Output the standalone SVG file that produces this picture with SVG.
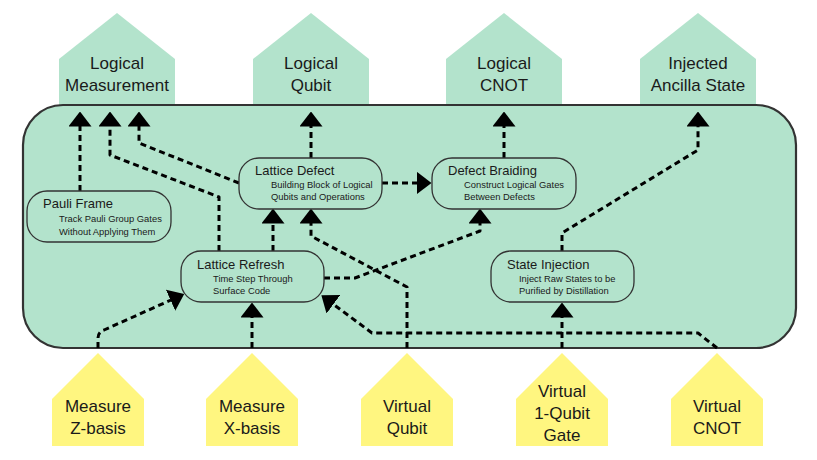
<svg xmlns="http://www.w3.org/2000/svg" width="817" height="460" viewBox="0 0 817 460">
<defs>
<style>
.out{fill:#b3e3cc}
.in{fill:#fff680}
.lbl{font-family:"Liberation Sans",Arial,sans-serif;font-size:17px;fill:#1a1a1a;text-anchor:middle}
.node{fill:#b3e3cc;stroke:#333;stroke-width:1.3}
.t{font-family:"Liberation Sans",Arial,sans-serif;font-size:13px;fill:#1a1a1a}
.s{font-family:"Liberation Sans",Arial,sans-serif;font-size:9.4px;fill:#1a1a1a}
.e{fill:none;stroke:#000;stroke-width:3;stroke-dasharray:6 4;stroke-linejoin:round;marker-end:url(#ah)}
.e2{fill:none;stroke:#000;stroke-width:3;stroke-dasharray:6 4;stroke-linejoin:round}
</style>
<marker id="ah" viewBox="0 0 15 23" markerWidth="15" markerHeight="23" refX="0.5" refY="11.5" orient="auto" markerUnits="userSpaceOnUse">
<path d="M0,0 L15,11.5 L0,23 Z" fill="#000"/>
</marker>
</defs>

<g id="out-logical-measurement"><polygon class="out" points="59,106 59,59 117,13 175,59 175,106"/><text class="lbl" x="117" y="69">Logical</text><text class="lbl" x="117" y="91">Measurement</text></g>
<g id="out-logical-qubit"><polygon class="out" points="253,106 253,59 311,13 369,59 369,106"/><text class="lbl" x="311" y="69">Logical</text><text class="lbl" x="311" y="91">Qubit</text></g>
<g id="out-logical-cnot"><polygon class="out" points="446,106 446,59 504,13 562,59 562,106"/><text class="lbl" x="504" y="69">Logical</text><text class="lbl" x="504" y="91">CNOT</text></g>
<g id="out-injected-ancilla"><polygon class="out" points="640,106 640,59 698,13 756,59 756,106"/><text class="lbl" x="698" y="69">Injected</text><text class="lbl" x="698" y="91">Ancilla State</text></g>

<g id="container"><rect x="23" y="105" width="773" height="243" rx="40" ry="40" fill="#b3e3cc" stroke="#333" stroke-width="2.2"/></g>

<g id="in-measure-z"><polygon class="in" points="52,446 52,399 98,353 144,399 144,446"/><text class="lbl" x="98" y="412">Measure</text><text class="lbl" x="98" y="434">Z-basis</text></g>
<g id="in-measure-x"><polygon class="in" points="206,446 206,399 252,353 298,399 298,446"/><text class="lbl" x="252" y="412">Measure</text><text class="lbl" x="252" y="434">X-basis</text></g>
<g id="in-virtual-qubit"><polygon class="in" points="361,446 361,399 407,353 453,399 453,446"/><text class="lbl" x="407" y="412">Virtual</text><text class="lbl" x="407" y="434">Qubit</text></g>
<g id="in-virtual-1qubit"><polygon class="in" points="516,446 516,399 562,353 608,399 608,446"/><text class="lbl" x="562" y="397">Virtual</text><text class="lbl" x="562" y="419">1-Qubit</text><text class="lbl" x="562" y="441">Gate</text></g>
<g id="in-virtual-cnot"><polygon class="in" points="671,446 671,399 717,353 763,399 763,446"/><text class="lbl" x="717" y="412">Virtual</text><text class="lbl" x="717" y="434">CNOT</text></g>

<g id="connectors">
<path class="e" d="M80,191 V126"/>
<path class="e" d="M219,251 V197 L110,155 V126"/>
<path class="e" d="M239,183 L139,143 V126"/>
<path class="e" d="M311,158 V126"/>
<path class="e" d="M382,183 H417"/>
<path class="e" d="M504,158 V126"/>
<path class="e" d="M562,251 V233 L698,150 V126"/>
<path class="e" d="M273,251 V223"/>
<path class="e" d="M407,348 V287 L311,236 V223"/>
<path class="e" d="M324,278 H355 L480,231 V223"/>
<path class="e" d="M98,348 V338 Q98,332 104,330 L171,300"/>
<path class="e" d="M252,348 V317"/>
<path class="e" d="M717,348 L698,333 H372 L333,304"/>
<path class="e" d="M562,348 V317"/>
</g>

<g id="pauli-frame"><rect class="node" x="27" y="191" width="144" height="51" rx="20"/><text class="t" x="43" y="208">Pauli Frame</text><text class="s" x="59" y="222">Track Pauli Group Gates</text><text class="s" x="59" y="235">Without Applying Them</text></g>
<g id="lattice-defect"><rect class="node" x="239" y="158" width="143" height="51" rx="20"/><text class="t" x="255" y="175">Lattice Defect</text><text class="s" x="271" y="188">Building Block of Logical</text><text class="s" x="271" y="200">Qubits and Operations</text></g>
<g id="defect-braiding"><rect class="node" x="432" y="158" width="144" height="51" rx="20"/><text class="t" x="448" y="175">Defect Braiding</text><text class="s" x="464" y="188">Construct Logical Gates</text><text class="s" x="464" y="200">Between Defects</text></g>
<g id="lattice-refresh"><rect class="node" x="181" y="251" width="143" height="51" rx="20"/><text class="t" x="197" y="269">Lattice Refresh</text><text class="s" x="213" y="282">Time Step Through</text><text class="s" x="213" y="294">Surface Code</text></g>
<g id="state-injection"><rect class="node" x="491" y="251" width="143" height="51" rx="20"/><text class="t" x="507" y="269">State Injection</text><text class="s" x="519" y="282">Inject Raw States to be</text><text class="s" x="519" y="294">Purified by Distillation</text></g>
</svg>
